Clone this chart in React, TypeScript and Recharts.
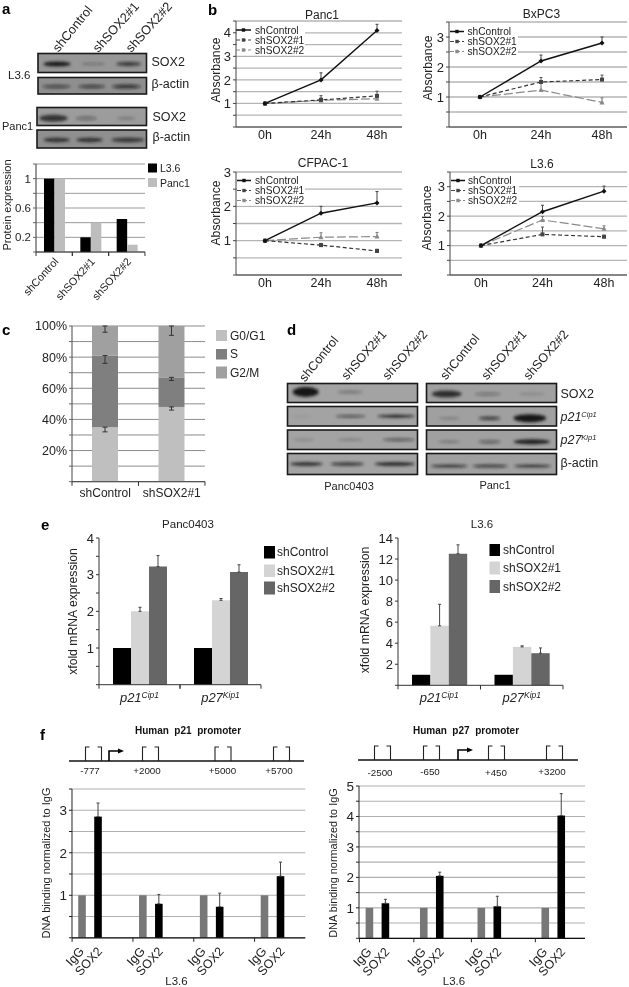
import { BarChart, Bar, LineChart, Line, XAxis, YAxis, CartesianGrid, ErrorBar } from "recharts";

const FONT = "'Liberation Sans', Arial, sans-serif";

// panel a
const proteinCats = ["shControl", "shSOX2#1", "shSOX2#2"];
const proteinL36 = [1, 0.2, 0.45];
const proteinPanc1 = [1, 0.4, 0.1];

// panel b
const hours = ["0h", "24h", "48h"];
const panc1Ctrl = [1, 2, 4.1];
const panc1Ctrl_e = [0, 0.3, 0.26];
const panc1S1 = [1, 1.15, 1.32];
const panc1S1_e = [0, 0.18, 0.2];
const panc1S2 = [1, 1.13, 1.2];
const panc1S2_e = [0, 0.1, 0.1];
const bxCtrl = [1, 2.2, 2.8];
const bxCtrl_e = [0, 0.2, 0.2];
const bxS1 = [1, 1.5, 1.58];
const bxS1_e = [0, 0.15, 0.15];
const bxS2 = [1, 1.23, 0.82];
const bxS2_e = [0, 0.25, 0.15];
const cfCtrl = [1, 1.8, 2.1];
const cfCtrl_e = [0, 0.2, 0.33];
const cfS1 = [1, 0.87, 0.7];
const cfS1_e = [0, 0.05, 0.05];
const cfS2 = [1, 1.1, 1.12];
const cfS2_e = [0, 0.13, 0.12];
const l36Ctrl = [1, 2.15, 2.85];
const l36Ctrl_e = [0, 0.22, 0.17];
const l36S1 = [1, 1.38, 1.3];
const l36S1_e = [0, 0.25, 0.05];
const l36S2 = [1, 1.87, 1.57];
const l36S2_e = [0, 0.12, 0.1];

// panel c
const cycleCats = ["shControl", "shSOX2#1"];
const g0g1 = [35, 48];
const sPhase = [46, 19];
const g2m = [19, 33];
const g0g1_e = [3, 2];
const sPhase_e = [5, 2];
const g2m_e = [4, 6];

// panel e
const genes = ["p21Cip1", "p27Kip1"];
const ePancCtrl = [1, 1];
const ePancS1 = [2, 2.3];
const ePancS1_e = [0.11, 0.05];
const ePancS2 = [3.22, 3.07];
const ePancS2_e = [0.3, 0.2];
const eL36Ctrl = [1, 1];
const eL36S1 = [5.65, 3.65];
const eL36S1_e = [2.05, 0.1];
const eL36S2 = [12.5, 3.05];
const eL36S2_e = [0.85, 0.5];

// panel f
const p21IgG = [1, 1, 1, 1];
const p21Sox = [2.85, 0.8, 0.73, 1.45];
const p21Sox_e = [0.32, 0.22, 0.32, 0.33];
const p27IgG = [1, 1, 1, 1];
const p27Sox = [1.15, 2.05, 1.05, 4.03];
const p27Sox_e = [0.13, 0.12, 0.33, 0.72];
const p21Sites = ["-777", "+2000", "+5000", "+5700"];
const p27Sites = ["-2500", "-650", "+450", "+3200"];

// blot bands: start, end (fraction of the strip), darkness, thickness
type Band = [number, number, number, number];
const blotA: Band[][] = [
  [[0.05, 0.3, 1, 5], [0.4, 0.62, 0.3, 2.5], [0.72, 0.95, 0.75, 4]],
  [[0.04, 0.3, 0.6, 3.5], [0.37, 0.62, 0.65, 3.5], [0.68, 0.95, 0.75, 4]],
  [[0.02, 0.28, 0.8, 7], [0.35, 0.55, 0.35, 4], [0.73, 0.9, 0.2, 3.5]],
  [[0.06, 0.3, 0.8, 4.5], [0.36, 0.6, 0.8, 4.5], [0.68, 0.98, 0.75, 4.5]],
];
const blotD: Band[][] = [
  [[0.04, 0.24, 1, 10], [0.38, 0.58, 0.22, 4]],
  [[0.03, 0.18, 0.08, 2], [0.37, 0.6, 0.75, 2], [0.69, 0.98, 0.95, 3]],
  [[0.04, 0.21, 0.15, 3], [0.38, 0.58, 0.2, 3], [0.73, 0.98, 0.55, 3]],
  [[0.02, 0.27, 0.8, 4], [0.33, 0.59, 0.75, 3.5], [0.67, 0.98, 0.85, 4]],
];
const blotD2: Band[][] = [
  [[0.04, 0.27, 0.85, 7], [0.37, 0.57, 0.3, 3.5], [0.71, 0.91, 0.15, 3]],
  [[0.09, 0.26, 0.2, 3], [0.4, 0.57, 0.7, 3.5], [0.67, 0.92, 1, 8]],
  [[0.09, 0.26, 0.25, 3], [0.4, 0.57, 0.45, 3.5], [0.67, 0.95, 0.95, 5]],
  [[0.03, 0.32, 0.8, 3], [0.35, 0.63, 0.75, 3], [0.67, 0.96, 0.8, 3]],
];

const zip = (cats: string[], cols: Record<string, number[]>) =>
  cats.map((name, i) => {
    const row: Record<string, any> = { name };
    for (const k of Object.keys(cols)) row[k] = cols[k][i];
    return row;
  });
const up = (e: number[]) => e.map((v) => [0, v]);
const down = (e: number[]) => e.map((v) => [v, 0]);

// plot rectangle -> chart box, so each chart's axes land on the picture's pixels
const YW = 50;
const XH = 60;
function boxProps(l: number, t: number, r: number, b: number) {
  return {
    style: { position: "absolute" as const, left: l - YW, top: t - 10 },
    width: r - l + YW + 12,
    height: b - t + 10 + XH,
    margin: { top: 10, right: 12, left: 0, bottom: 0 },
  };
}

function slantTick(step: number, size: number, dx: number, dy: number, angle: number) {
  return (p: any) => (
    <g>
      <line x1={p.x - step / 2} x2={p.x - step / 2} y1={p.y - 8} y2={p.y - 4} stroke="#333" />
      <line x1={p.x + step / 2} x2={p.x + step / 2} y1={p.y - 8} y2={p.y - 4} stroke="#333" />
      <text
        transform={`rotate(${angle} ${p.x + dx} ${p.y + dy})`}
        x={p.x + dx}
        y={p.y + dy}
        textAnchor="end"
        fontSize={size}
        fontFamily={FONT}
        fill="#222"
      >
        {p.payload.value}
      </text>
    </g>
  );
}

function flatTick(step: number, size: number, dy: number) {
  return (p: any) => (
    <g>
      <line x1={p.x - step / 2} x2={p.x - step / 2} y1={p.y - 8} y2={p.y - 4} stroke="#333" />
      <line x1={p.x + step / 2} x2={p.x + step / 2} y1={p.y - 8} y2={p.y - 4} stroke="#333" />
      <text x={p.x} y={p.y + dy} textAnchor="middle" fontSize={size} fontFamily={FONT} fill="#222">
        {p.payload.value}
      </text>
    </g>
  );
}

function geneTick(step: number) {
  return (p: any) => {
    const v = String(p.payload.value);
    return (
      <g>
        <line x1={p.x - step / 2} x2={p.x - step / 2} y1={p.y - 8} y2={p.y - 4} stroke="#333" />
        <line x1={p.x + step / 2} x2={p.x + step / 2} y1={p.y - 8} y2={p.y - 4} stroke="#333" />
        <text x={p.x} y={p.y + 9} textAnchor="middle" fontFamily={FONT} fill="#222" fontStyle="italic" fontSize={13}>
          <tspan>{v.slice(0, 3)}</tspan>
          <tspan dy={-4} fontSize={8.5}>{v.slice(3)}</tspan>
        </text>
      </g>
    );
  };
}

const shape = (kind: string, color: string) => (p: any) => {
  const { cx, cy, index } = p;
  if (cx == null || cy == null) return <g key={index} />;
  if (kind === "square") return <rect key={index} x={cx - 2} y={cy - 2} width={4} height={4} fill={color} />;
  if (kind === "tri") return <path key={index} d={`M${cx} ${cy - 2.5}L${cx + 2.5} ${cy + 2}L${cx - 2.5} ${cy + 2}Z`} fill={color} />;
  return <path key={index} d={`M${cx} ${cy - 2.5}L${cx + 2.5} ${cy}L${cx} ${cy + 2.5}L${cx - 2.5} ${cy}Z`} fill={color} />;
};

function GrowthChart(props: {
  box: number[]; top: number; ticks: number[]; pad: number[];
  ctrl: number[]; ctrlE: number[]; s1: number[]; s1E: number[]; s2: number[]; s2E: number[];
}) {
  const { box, top, ticks, pad } = props;
  const rows = zip(hours, {
    ctrl: props.ctrl, s1: props.s1, s2: props.s2,
  }).map((r, i) => ({
    ...r,
    ctrlE: up(props.ctrlE)[i],
    s1E: up(props.s1E)[i],
    s2E: up(props.s2E)[i],
  }));
  return (
    <LineChart {...boxProps(box[0], box[1], box[2], box[3])} data={rows}>
      <CartesianGrid vertical={false} stroke="#b4b4b4" strokeWidth={1.3} />
      <XAxis
        dataKey="name"
        height={XH}
        padding={{ left: pad[0], right: pad[1] }}
        axisLine={{ stroke: "#444" }}
        tickLine={false}
        tickSize={0}
        tickMargin={3}
        tick={{ fontSize: 12.5, fill: "#222", fontFamily: FONT }}
        interval={0}
      />
      <YAxis
        width={YW}
        domain={[0, top]}
        ticks={ticks}
        interval={0}
        axisLine={{ stroke: "#444" }}
        tickSize={3}
        tickLine={{ stroke: "#444" }}
        tickFormatter={(v: number) => (Number.isInteger(v) && v > 0 ? String(v) : "")}
        tick={{ fontSize: 13, fill: "#222", fontFamily: FONT }}
      />
      <Line dataKey="s2" stroke="#8a8a8a" strokeWidth={1.2} strokeDasharray="9 3" dot={shape("tri", "#8a8a8a")} isAnimationActive={false}>
        <ErrorBar dataKey="s2E" width={1.5} stroke="#777" strokeWidth={1} />
      </Line>
      <Line dataKey="s1" stroke="#333" strokeWidth={1.2} strokeDasharray="4 2.5" dot={shape("square", "#444")} isAnimationActive={false}>
        <ErrorBar dataKey="s1E" width={1.5} stroke="#555" strokeWidth={1} />
      </Line>
      <Line dataKey="ctrl" stroke="#111" strokeWidth={1.4} dot={shape("diamond", "#111")} isAnimationActive={false}>
        <ErrorBar dataKey="ctrlE" width={1.5} stroke="#444" strokeWidth={1} />
      </Line>
    </LineChart>
  );
}

function ExprChart(props: {
  box: number[]; top: number; ticks: number[]; labelled: (v: number) => boolean;
  ctrl: number[]; s1: number[]; s1E: number[]; s2: number[]; s2E: number[]; bar: number;
}) {
  const { box, top, ticks, bar } = props;
  const rows = zip(genes, { ctrl: props.ctrl, s1: props.s1, s2: props.s2 }).map((r, i) => ({
    ...r,
    s1E: up(props.s1E)[i],
    s2E: up(props.s2E)[i],
  }));
  return (
    <BarChart {...boxProps(box[0], box[1], box[2], box[3])} data={rows} barSize={bar} barGap={0}>
      <XAxis
        dataKey="name"
        height={XH}
        axisLine={{ stroke: "#333" }}
        tickLine={false}
        interval={0}
        tick={geneTick((box[2] - box[0]) / 2)}
      />
      <YAxis
        width={YW}
        domain={[0, top]}
        ticks={ticks}
        interval={0}
        axisLine={{ stroke: "#333" }}
        tickSize={3}
        tickLine={{ stroke: "#333" }}
        tickFormatter={(v: number) => (props.labelled(v) ? String(v) : "")}
        tick={{ fontSize: 13, fill: "#222", fontFamily: FONT }}
      />
      <Bar dataKey="ctrl" fill="#000" isAnimationActive={false} />
      <Bar dataKey="s1" fill="#d4d4d4" isAnimationActive={false}>
        <ErrorBar dataKey="s1E" width={1.5} stroke="#444" strokeWidth={1} />
      </Bar>
      <Bar dataKey="s2" fill="#666" isAnimationActive={false}>
        <ErrorBar dataKey="s2E" width={1.5} stroke="#444" strokeWidth={1} />
      </Bar>
    </BarChart>
  );
}

// The ChIP bars sit unevenly along the axis, so rows are fine slots and each
// group occupies the slot nearest to where it was drawn.
function chipRows(slots: number, groups: number[], igg: number[], sox: number[], soxE: number[]) {
  const rows: Record<string, any>[] = [];
  for (let i = 0; i < slots; i++) {
    const g = groups.indexOf(i);
    const h = groups.indexOf(i - 5);
    if (g >= 0) rows.push({ label: "IgG", igg: igg[g] });
    else if (h >= 0) rows.push({ label: "SOX2", sox: sox[h], soxE: [0, soxE[h]] });
    else rows.push({ label: "" });
  }
  return rows;
}

const chipBar = (p: any) =>
  p.height > 0 ? <rect x={p.x + p.width / 2 - 3.8} y={p.y} width={7.6} height={p.height} fill={p.fill} /> : <g />;

const chipTick = (p: any) => {
  const v = p.payload.value;
  if (!v) return <g />;
  const cx = p.x + (v === "IgG" ? 0 : 2);
  return (
    <g>
      {v === "IgG" && <line x1={p.x - 9.7} x2={p.x - 9.7} y1={p.y - 8} y2={p.y - 4} stroke="#222" />}
      <text
        transform={`rotate(-48 ${cx + 3} ${p.y + 6})`}
        x={cx + 3}
        y={p.y + 6}
        textAnchor="end"
        fontSize={12.5}
        fontFamily={FONT}
        fill="#222"
      >
        {v}
      </text>
    </g>
  );
};

function ChipChart(props: {
  box: number[]; top: number; ticks: number[]; pad: number[]; rows: Record<string, any>[];
}) {
  const { box, top, ticks, pad, rows } = props;
  return (
    <BarChart {...boxProps(box[0], box[1], box[2], box[3])} data={rows}>
      <CartesianGrid vertical={false} stroke="#b0b0b0" strokeWidth={1.1} />
      <XAxis
        dataKey="label"
        height={XH}
        padding={{ left: pad[0], right: pad[1] }}
        axisLine={{ stroke: "#111", strokeWidth: 1.2 }}
        tickLine={false}
        interval={0}
        tick={chipTick}
      />
      <YAxis
        width={YW}
        domain={[0, top]}
        ticks={ticks}
        interval={0}
        axisLine={{ stroke: "#222" }}
        tickSize={3}
        tickLine={{ stroke: "#222" }}
        tickFormatter={(v: number) => (Number.isInteger(v) && v > 0 ? String(v) : "")}
        tick={{ fontSize: 13.5, fill: "#222", fontFamily: FONT }}
      />
      <Bar dataKey="igg" stackId="a" fill="#777" shape={chipBar} isAnimationActive={false} />
      <Bar dataKey="sox" stackId="a" fill="#000" shape={chipBar} isAnimationActive={false}>
        <ErrorBar dataKey="soxE" width={1.5} stroke="#444" strokeWidth={1} />
      </Bar>
    </BarChart>
  );
}

function T(p: { x: number; y: number; s: number; a?: string; r?: number; w?: number; c?: string; i?: boolean; children: any }) {
  return (
    <text
      x={p.x}
      y={p.y}
      fontSize={p.s}
      textAnchor={(p.a || "start") as any}
      dominantBaseline="central"
      fontWeight={p.w || 400}
      fontStyle={p.i ? "italic" : "normal"}
      fill={p.c || "#222"}
      transform={p.r ? `rotate(${p.r} ${p.x} ${p.y})` : undefined}
    >
      {p.children}
    </text>
  );
}

function Blot(p: { x: number; y: number; w: number; h: number; bands: Band[]; bg?: string; at?: number }) {
  const cy = p.y + p.h * (p.at ?? 0.55);
  return (
    <g>
      <rect x={p.x} y={p.y} width={p.w} height={p.h} fill={p.bg || "#979797"} stroke="#1a1a1a" strokeWidth={1.6} />
      <g filter="url(#blotBlur)">
        {p.bands.map((b, i) => (
          <ellipse
            key={i}
            cx={p.x + (p.w * (b[0] + b[1])) / 2}
            cy={cy}
            rx={(p.w * (b[1] - b[0])) / 2}
            ry={b[3] / 2}
            fill="#151515"
            opacity={b[2]}
          />
        ))}
      </g>
    </g>
  );
}

function LineKey(p: { x: number; ty: number[]; lx: number[]; tx: number; w: number }) {
  const names = ["shControl", "shSOX2#1", "shSOX2#2"];
  const cols = ["#111", "#444", "#8a8a8a"];
  const dash = [undefined, "4 2", "4 2"];
  return (
    <g>
      <rect x={p.x} y={p.ty[0] - 6} width={p.w} height={p.ty[2] - p.ty[0] + 11} fill="#fff" />
      {names.map((n, i) => (
        <g key={n}>
          <line x1={p.lx[0]} x2={p.lx[1]} y1={p.ty[i]} y2={p.ty[i]} stroke={cols[i]} strokeWidth={i ? 1 : 1.5} strokeDasharray={dash[i]} />
          <rect x={(p.lx[0] + p.lx[1]) / 2 - 1.7} y={p.ty[i] - 1.7} width={3.4} height={3.4} fill={cols[i]} />
          <T x={p.tx} y={p.ty[i]} s={10.2}>{n}</T>
        </g>
      ))}
    </g>
  );
}

function SwatchKey(p: { x: number; tx: number; sw: number; ys: number[][]; names: string[]; cols: string[]; s: number }) {
  return (
    <g>
      {p.names.map((n, i) => (
        <g key={n}>
          <rect x={p.x} y={p.ys[i][0]} width={p.sw} height={p.ys[i][1] - p.ys[i][0]} fill={p.cols[i]} />
          <T x={p.tx} y={(p.ys[i][0] + p.ys[i][1]) / 2} s={p.s}>{n}</T>
        </g>
      ))}
    </g>
  );
}

function Promoter(p: { x1: number; x2: number; y: number; sites: number[]; arrow: number; ly: number[]; lx: number[]; labels: string[] }) {
  return (
    <g fill="none" stroke="#222">
      <line x1={p.x1} x2={p.x2} y1={p.y} y2={p.y} strokeWidth={1.5} stroke="#111" />
      {p.sites.map((s) => (
        <path key={s} d={`M${s} ${p.y}V${p.y - 14}H${s + 4} M${s + 12} ${p.y - 14}H${s + 16}V${p.y}`} strokeWidth={1.1} />
      ))}
      <path d={`M${p.arrow} ${p.y}V${p.y - 10}H${p.arrow + 10}`} strokeWidth={1.6} stroke="#000" />
      <path d={`M${p.arrow + 15} ${p.y - 10}l-6 -2.5v5Z`} fill="#000" stroke="none" />
      <g stroke="none">
        {p.labels.map((l, i) => (
          <T key={l} x={p.lx[i]} y={p.ly[i]} s={9.8} a="middle">{l}</T>
        ))}
      </g>
    </g>
  );
}

const halfTicks = (top: number) => {
  const out: number[] = [];
  for (let i = 0; i * 0.5 <= top; i++) out.push(i * 0.5);
  return out;
};

export default function App() {
  const proteinRows = zip(proteinCats, { l36: proteinL36, panc1: proteinPanc1 });
  const cycleRows = zip(cycleCats, { g0: g0g1, s: sPhase, g2: g2m }).map((r, i) => ({
    ...r,
    g0E: down(g0g1_e)[i],
    sE: down(sPhase_e)[i],
    g2E: down(g2m_e)[i],
  }));
  const p21Rows = chipRows(70, [0, 19, 38, 57], p21IgG, p21Sox, p21Sox_e);
  const p27Rows = chipRows(68, [0, 17, 35, 55], p27IgG, p27Sox, p27Sox_e);

  return (
    <div style={{ position: "absolute", left: 0, top: 0, width: 629, height: 987, background: "#fff", overflow: "hidden", fontFamily: FONT, filter: "blur(0.35px)" }}>
      {/* a */}
      <BarChart {...boxProps(36, 164, 145, 252)} data={proteinRows} barSize={10.5} barGap={0}>
        <CartesianGrid vertical={false} stroke="#9a9a9a" />
        <XAxis dataKey="name" height={XH} axisLine={{ stroke: "#333" }} tickLine={false} interval={0} tick={slantTick(36.3, 10.8, 5, 2, -48)} />
        <YAxis
          width={YW}
          domain={[0, 1.2]}
          ticks={[0, 0.2, 0.4, 0.6, 0.8, 1, 1.2]}
          interval={0}
          axisLine={{ stroke: "#333" }}
          tickSize={3}
          tickFormatter={(v: number) => ([0.2, 0.6, 1].includes(v) ? String(v) : "")}
          tick={{ fontSize: 11.5, fill: "#222", fontFamily: FONT }}
        />
        <Bar dataKey="l36" fill="#000" isAnimationActive={false} />
        <Bar dataKey="panc1" fill="#bdbdbd" isAnimationActive={false} />
      </BarChart>

      {/* b */}
      <GrowthChart box={[236, 21, 402, 127]} top={4.5} ticks={halfTicks(4.5)} pad={[29, 25]}
        ctrl={panc1Ctrl} ctrlE={panc1Ctrl_e} s1={panc1S1} s1E={panc1S1_e} s2={panc1S2} s2E={panc1S2_e} />
      <GrowthChart box={[449, 22, 627, 127]} top={3.5} ticks={halfTicks(3.5)} pad={[31, 25]}
        ctrl={bxCtrl} ctrlE={bxCtrl_e} s1={bxS1} s1E={bxS1_e} s2={bxS2} s2E={bxS2_e} />
      <GrowthChart box={[236, 172, 402, 275]} top={3} ticks={halfTicks(3)} pad={[29, 25]}
        ctrl={cfCtrl} ctrlE={cfCtrl_e} s1={cfS1} s1E={cfS1_e} s2={cfS2} s2E={cfS2_e} />
      <GrowthChart box={[450, 172, 627, 275]} top={3.5} ticks={halfTicks(3.5)} pad={[31, 23]}
        ctrl={l36Ctrl} ctrlE={l36Ctrl_e} s1={l36S1} s1E={l36S1_e} s2={l36S2} s2E={l36S2_e} />

      {/* c */}
      <BarChart {...boxProps(72, 326, 205, 481.7)} data={cycleRows} barSize={26}>
        <CartesianGrid vertical={false} stroke="#8c8c8c" />
        <XAxis dataKey="name" height={XH} axisLine={{ stroke: "#444" }} tickLine={false} interval={0} tick={flatTick(66.5, 12, 7.5)} />
        <YAxis
          width={YW}
          domain={[0, 100]}
          ticks={[0, 10, 20, 30, 40, 50, 60, 70, 80, 90, 100]}
          interval={0}
          axisLine={{ stroke: "#444" }}
          tickSize={3}
          tickFormatter={(v: number) => (v > 0 && v % 20 === 0 ? `${v}%` : "")}
          tick={{ fontSize: 12.5, fill: "#222", fontFamily: FONT }}
        />
        <Bar dataKey="g0" stackId="c" fill="#bfbfbf" isAnimationActive={false}>
          <ErrorBar dataKey="g0E" width={2.5} stroke="#333" strokeWidth={1} />
        </Bar>
        <Bar dataKey="s" stackId="c" fill="#7f7f7f" isAnimationActive={false}>
          <ErrorBar dataKey="sE" width={2.5} stroke="#333" strokeWidth={1} />
        </Bar>
        <Bar dataKey="g2" stackId="c" fill="#a0a0a0" isAnimationActive={false}>
          <ErrorBar dataKey="g2E" width={2.5} stroke="#333" strokeWidth={1} />
        </Bar>
      </BarChart>

      {/* e */}
      <ExprChart box={[99, 538.3, 261, 685]} top={4} ticks={[0, 0.5, 1, 1.5, 2, 2.5, 3, 3.5, 4]}
        labelled={(v) => Number.isInteger(v) && v > 0} bar={18}
        ctrl={ePancCtrl} s1={ePancS1} s1E={ePancS1_e} s2={ePancS2} s2E={ePancS2_e} />
      <ExprChart box={[398, 537.7, 563, 685]} top={14} ticks={[0, 2, 4, 6, 8, 10, 12, 14]}
        labelled={(v) => v > 0} bar={18.4}
        ctrl={eL36Ctrl} s1={eL36S1} s1E={eL36S1_e} s2={eL36S2} s2E={eL36S2_e} />

      {/* f */}
      <ChipChart box={[71.7, 788.7, 305, 937.5]} top={3.5} ticks={halfTicks(3.5)} pad={[8.2, 1]} rows={p21Rows} />
      <ChipChart box={[359.3, 785.7, 585.3, 938]} top={5} ticks={halfTicks(5)} pad={[8.6, 0]} rows={p27Rows} />

      <svg width={629} height={987} style={{ position: "absolute", left: 0, top: 0, pointerEvents: "none" }} fontFamily={FONT}>
        <defs>
          <filter id="blotBlur" x="-20%" y="-100%" width="140%" height="300%">
            <feGaussianBlur stdDeviation="1.4" />
          </filter>
        </defs>

        {/* panel letters */}
        <T x={2} y={8} s={15} w={700} c="#000">a</T>
        <T x={208} y={9} s={15} w={700} c="#000">b</T>
        <T x={2} y={329} s={15} w={700} c="#000">c</T>
        <T x={287} y={329} s={15} w={700} c="#000">d</T>
        <T x={41} y={524} s={15} w={700} c="#000">e</T>
        <T x={40} y={734} s={15} w={700} c="#000">f</T>

        {/* a */}
        <T x={55} y={50} s={12.8} r={-51}>shControl</T>
        <T x={95} y={50} s={12.8} r={-48}>shSOX2#1</T>
        <T x={128} y={50} s={12.8} r={-48}>shSOX2#2</T>
        <Blot x={38} y={53.5} w={108.5} h={19} bands={blotA[0]} />
        <Blot x={38} y={77.5} w={108.5} h={16.5} bands={blotA[1]} bg="#8f8f8f" />
        <Blot x={37} y={107.5} w={109.5} h={18} bands={blotA[2]} bg="#9c9c9c" at={0.6} />
        <Blot x={37} y={130} w={109.5} h={18} bands={blotA[3]} bg="#8f8f8f" />
        <T x={151.5} y={62} s={12.5}>SOX2</T>
        <T x={151.5} y={84} s={12.5}>β-actin</T>
        <T x={152.5} y={117} s={12.5}>SOX2</T>
        <T x={152.5} y={137} s={12.5}>β-actin</T>
        <T x={8} y={75} s={11.5}>L3.6</T>
        <T x={2} y={126} s={11}>Panc1</T>
        <T x={7} y={205} s={11} a="middle" r={-90}>Protein expression</T>
        <SwatchKey x={148} tx={160} sw={9} ys={[[163.5, 172.5], [178, 187]]} names={["L3.6", "Panc1"]} cols={["#000", "#bdbdbd"]} s={10.5} />

        {/* b */}
        <T x={322} y={15} s={12} a="middle">Panc1</T>
        <T x={541.5} y={14} s={12} a="middle">BxPC3</T>
        <T x={323} y={163} s={12} a="middle">CFPAC-1</T>
        <T x={542} y={164} s={12} a="middle">L3.6</T>
        <T x={216} y={70} s={12.2} a="middle" r={-90}>Absorbance</T>
        <T x={428} y={68} s={12.2} a="middle" r={-90}>Absorbance</T>
        <T x={216} y={213} s={12.2} a="middle" r={-90}>Absorbance</T>
        <T x={427} y={218} s={12.2} a="middle" r={-90}>Absorbance</T>
        <LineKey x={237} w={68} ty={[30, 40, 50]} lx={[236, 251]} tx={255} />
        <LineKey x={450} w={68} ty={[31.5, 41.5, 51.5]} lx={[450, 464]} tx={467.5} />
        <LineKey x={237} w={68} ty={[180.5, 190.5, 200.5]} lx={[237, 251]} tx={255} />
        <LineKey x={451} w={68} ty={[180.5, 190.5, 200.5]} lx={[451, 465]} tx={468} />

        {/* c */}
        <SwatchKey x={216} tx={230} sw={11} ys={[[330, 341], [349, 359.5], [366.5, 378.5]]} names={["G0/G1", "S", "G2/M"]} cols={["#bfbfbf", "#7f7f7f", "#a0a0a0"]} s={12} />

        {/* d */}
        <T x={302} y={380} s={12.6} r={-51}>shControl</T>
        <T x={344} y={378} s={12.6} r={-49}>shSOX2#1</T>
        <T x={385} y={378} s={12.6} r={-49}>shSOX2#2</T>
        <T x={443} y={378} s={12.6} r={-51}>shControl</T>
        <T x={484} y={378} s={12.6} r={-49}>shSOX2#1</T>
        <T x={526} y={378} s={12.6} r={-49}>shSOX2#2</T>
        {[[383.5, 19], [406.5, 19.5], [430, 19.5], [453.5, 21]].map((r, i) => (
          <g key={i}>
            <Blot x={287.5} y={r[0]} w={130} h={r[1]} bands={blotD[i]} bg="#a3a3a3" at={i === 0 ? 0.45 : 0.5} />
            <Blot x={426.5} y={r[0]} w={130} h={r[1]} bands={blotD2[i]} bg="#a0a0a0" at={i === 0 ? 0.55 : 0.6} />
          </g>
        ))}
        <T x={560.5} y={393.5} s={12.5}>SOX2</T>
        <text x={560.5} y={421} fontSize={12.5} fontStyle="italic" fill="#222">p21<tspan dy={-4} fontSize={7.5}>Cip1</tspan></text>
        <text x={560.5} y={444} fontSize={12.5} fontStyle="italic" fill="#222">p27<tspan dy={-4} fontSize={7.5}>Kip1</tspan></text>
        <T x={560.5} y={462.5} s={12.5}>β-actin</T>
        <T x={349} y={485.5} s={11} a="middle">Panc0403</T>
        <T x={495} y={485} s={11} a="middle">Panc1</T>

        {/* e */}
        <T x={188} y={524} s={11.5} a="middle">Panc0403</T>
        <T x={482} y={524} s={11.5} a="middle">L3.6</T>
        <T x={72.5} y={611.5} s={12.2} a="middle" r={-90}>xfold mRNA expression</T>
        <T x={365} y={610} s={12.2} a="middle" r={-90}>xfold mRNA expression</T>
        <SwatchKey x={264} tx={277} sw={11} ys={[[546, 558.5], [564.5, 577], [581.5, 594.5]]} names={["shControl", "shSOX2#1", "shSOX2#2"]} cols={["#000", "#d4d4d4", "#666"]} s={12} />
        <SwatchKey x={489.5} tx={503} sw={10.5} ys={[[544, 556], [561.5, 574.5], [580, 593]]} names={["shControl", "shSOX2#1", "shSOX2#2"]} cols={["#000", "#d4d4d4", "#666"]} s={12} />

        {/* f */}
        <T x={188} y={730.5} s={10} w={700} a="middle" c="#111">{"Human\u00a0\u00a0p21\u00a0\u00a0promoter"}</T>
        <T x={466} y={730.5} s={10} w={700} a="middle" c="#111">{"Human\u00a0\u00a0p27\u00a0\u00a0promoter"}</T>
        <Promoter x1={69} x2={304} y={761} sites={[85.5, 142.5, 215, 273.5]} arrow={109}
          lx={[90, 147, 222.5, 279]} ly={[770, 770, 770, 770]} labels={p21Sites} />
        <Promoter x1={358} x2={578} y={760} sites={[374.5, 423.5, 488.5, 546.5]} arrow={458}
          lx={[380, 430, 496, 552]} ly={[772, 771, 772, 771]} labels={p27Sites} />
        <T x={46} y={863} s={11} a="middle" r={-90}>DNA binding normalized to IgG</T>
        <T x={333} y={863} s={10.9} a="middle" r={-90}>DNA binding normalized to IgG</T>
        <T x={176.5} y={981} s={11.5} a="middle">L3.6</T>
        <T x={454} y={981} s={11.5} a="middle">L3.6</T>
      </svg>
    </div>
  );
}
